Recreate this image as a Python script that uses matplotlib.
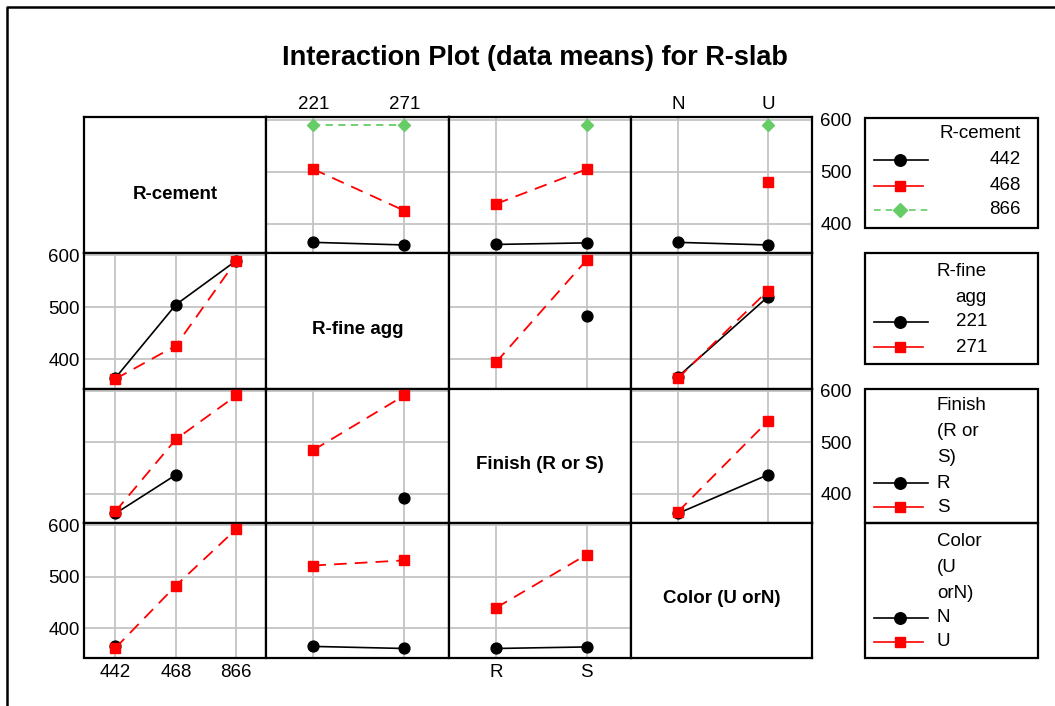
import numpy as np
import matplotlib
matplotlib.use("Agg")
import matplotlib.pyplot as plt
from matplotlib.patches import Rectangle

plt.rcParams["font.family"] = ["Liberation Sans", "DejaVu Sans"]

# ---------------- data ----------------
title = "Interaction Plot (data means) for R-slab"
factor_names = ["R-cement", "R-fine agg", "Finish (R or S)", "Color (U orN)"]
cement_levels = ["442", "468", "866"]
fine_levels = ["221", "271"]
finish_levels = ["R", "S"]
color_levels = ["N", "U"]
yticks = [400, 500, 600]
nan = np.nan

# R-cement lines (442, 468, 866) against the other factors
cement_vs_fine = [[364, 359], [505, 425], [590, 590]]
cement_vs_finish = [[360, 363], [438, 505], [nan, 590]]
cement_vs_color = [[364, 359], [nan, 480], [nan, 590]]

# R-fine agg lines (221, 271)
fine_vs_cement = [[364, 505, 590], [362, 426, 590]]
fine_vs_finish = [[nan, 484], [394, 591]]
fine_vs_color = [[366, 520], [363, 532]]

# Finish lines (R, S)
finish_vs_cement = [[362, 437, nan], [366, 506, 591]]
finish_vs_fine = [[nan, 392], [485, 591]]
finish_vs_color = [[362, 437], [365, 541]]

# Color lines (N, U)
color_vs_cement = [[365, nan, nan], [362, 483, 593]]
color_vs_fine = [[365, 361], [522, 532]]
color_vs_finish = [[361, 364], [440, 543]]

levels = [cement_levels, fine_levels, finish_levels, color_levels]
panels = {
    (0, 1): cement_vs_fine, (0, 2): cement_vs_finish, (0, 3): cement_vs_color,
    (1, 0): fine_vs_cement, (1, 2): fine_vs_finish, (1, 3): fine_vs_color,
    (2, 0): finish_vs_cement, (2, 1): finish_vs_fine, (2, 3): finish_vs_color,
    (3, 0): color_vs_cement, (3, 1): color_vs_fine, (3, 2): color_vs_finish,
}

# ---------------- styles ----------------
GREEN = "#66cc66"
series_style = [
    dict(color="black", marker="o", markersize=7.8, linestyle="-", linewidth=1.2),
    dict(color="red", marker="s", markersize=6.8, linestyle=(0, (7, 4.5)), linewidth=1.3),
    dict(color=GREEN, marker="D", markersize=6.5, linestyle=(0, (4, 3)), linewidth=1.3),
]
GRID = "#c4c4c4"
FS = 13.5

W, H = 1055, 706
fig = plt.figure(figsize=(W / 100, H / 100), dpi=100)


def px_box(x0, y0, x1, y1):
    return [x0 / W, 1 - y1 / H, (x1 - x0) / W, (y1 - y0) / H]


col_edges = [84, 266, 449, 631, 812]
row_edges = [117.5, 253, 388.5, 523, 657.5]

for r in range(4):
    for c in range(4):
        ax = fig.add_axes(px_box(col_edges[c], row_edges[r], col_edges[c + 1], row_edges[r + 1]))
        for s in ax.spines.values():
            s.set_linewidth(1.6)
        ax.tick_params(length=0, labelsize=FS)
        ax.set_xticks([])
        ax.set_yticks([])
        if r == c:
            ax.text(0.5, 0.435, factor_names[r], transform=ax.transAxes,
                    ha="center", va="center", fontsize=13.5, fontweight="bold")
            continue
        n = len(levels[c])
        xpos = np.arange(1, n + 1)
        ax.set_xlim(0.48, n + 0.49)
        ax.set_ylim(343.5, 604.5)
        for xp in xpos:
            ax.axvline(xp, color=GRID, lw=1.3, zorder=1)
        for yv in yticks:
            ax.axhline(yv, color=GRID, lw=1.3, zorder=1)
        for k, vals in enumerate(panels[(r, c)]):
            ax.plot(xpos, vals, clip_on=False, zorder=3 + k, **series_style[k])

        # axis labels on alternating outer edges
        if (r == 0 and c in (1, 3)) or (r == 3 and c in (0, 2)):
            ax.set_xticks(xpos)
            ax.set_xticklabels(levels[c])
            if r == 0:
                ax.xaxis.tick_top()
                ax.tick_params(axis="x", pad=3)
            else:
                ax.tick_params(axis="x", pad=5)
        if c == 0 and r in (1, 3):
            ax.set_yticks(yticks)
            ax.tick_params(axis="y", pad=3)
        if c == 3 and r in (0, 2):
            ax.set_yticks(yticks)
            ax.yaxis.tick_right()
            ax.tick_params(axis="y", pad=6)

# ---------------- overlay: title, frame, legends ----------------
ov = fig.add_axes([0, 0, 1, 1], facecolor="none")
ov.set_xlim(0, W)
ov.set_ylim(H, 0)
ov.axis("off")

ov.text(535, 58, title, ha="center", va="center", fontsize=19.5, fontweight="bold")
ov.plot([7, 7, W + 5], [H + 5, 7, 7], color="black", lw=1.8, solid_capstyle="butt")

legend_boxes = [(117.5, 227.5), (253, 363.5), (388.5, 523), (523, 657.5)]
for y0, y1 in legend_boxes:
    ov.add_patch(Rectangle((865, y0), 173, y1 - y0, fill=False, ec="black", lw=1.6))


def key(y, k):
    st = series_style[k]
    x1 = 923 if k == 1 else 928
    ov.plot([874, x1], [y, y], color=st["color"], lw=1.2,
            linestyle=st["linestyle"] if k == 2 else "-")
    ov.plot([900], [y], color=st["color"], marker=st["marker"],
            markersize=st["markersize"] + 0.5, linestyle="none")


# R-cement legend
ov.text(1021, 134, "R-cement", ha="right", va="center", fontsize=FS)
for k, (lab, y) in enumerate(zip(cement_levels, [160, 186, 210])):
    key(y, k)
    ov.text(1021, y, lab, ha="right", va="center", fontsize=FS)

# R-fine agg legend
ov.text(987, 271, "R-fine", ha="right", va="center", fontsize=FS)
ov.text(987, 297, "agg", ha="right", va="center", fontsize=FS)
for k, (lab, y) in enumerate(zip(fine_levels, [322, 347])):
    key(y, k)
    ov.text(987, y, lab, ha="right", va="center", fontsize=FS)

# Finish legend
for t, y in zip(["Finish", "(R or", "S)"], [406, 432, 457]):
    ov.text(937, y, t, ha="left", va="center", fontsize=FS)
for k, (lab, y) in enumerate(zip(finish_levels, [483, 507])):
    key(y, k)
    ov.text(937, y, lab, ha="left", va="center", fontsize=FS)

# Color legend
for t, y in zip(["Color", "(U", "orN)"], [542, 568, 593]):
    ov.text(937, y, t, ha="left", va="center", fontsize=FS)
for k, (lab, y) in enumerate(zip(color_levels, [618, 642])):
    key(y, k)
    ov.text(937, y, lab, ha="left", va="center", fontsize=FS)

fig.savefig("out.png", dpi=100)
